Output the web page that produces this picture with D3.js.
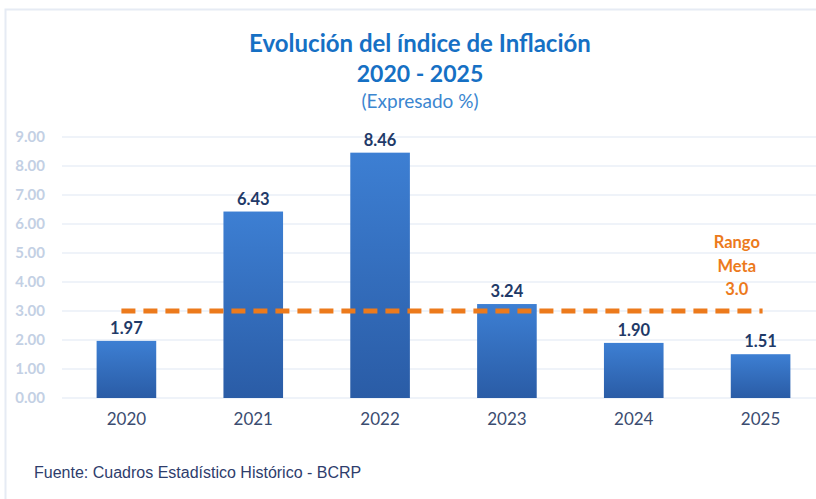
<!DOCTYPE html>
<html>
<head>
<meta charset="utf-8">
<script src="https://cdn.jsdelivr.net/npm/d3@7"></script>
<style>
  body { margin: 0; background: #fff; }
  svg { display: block; }
</style>
</head>
<body>
<svg id="chart" width="816" height="499"></svg>
<script>
const years = ['2020', '2021', '2022', '2023', '2024', '2025']
const inflation = [1.97, 6.43, 8.46, 3.24, 1.90, 1.51]
const yTicks = [0, 1, 2, 3, 4, 5, 6, 7, 8, 9]
const targetValue = 3.0
const targetLabel = ['Rango', 'Meta', '3.0']
const titleLines = ['Evolución del índice de Inflación', '2020 - 2025', '(Expresado %)']
const source = 'Fuente: Cuadros Estadístico Histórico - BCRP'

const font = 'Lato'
const barLabelColor = '#1f3a68'
const orange = '#ec7a1c'

const svg = d3.select('#chart')

// frame
svg.append('rect')
  .attr('x', 5.5).attr('y', 9.5)
  .attr('width', 830).attr('height', 520)
  .attr('fill', 'none')
  .attr('stroke', '#e6ebf4')
  .attr('stroke-width', 2)

const defs = svg.append('defs')
const grad = defs.append('linearGradient')
  .attr('id', 'barGrad')
  .attr('x1', 0).attr('y1', 0).attr('x2', 0).attr('y2', 1)
grad.append('stop').attr('offset', '0%').attr('stop-color', '#3d7fd3')
grad.append('stop').attr('offset', '100%').attr('stop-color', '#2a5ca6')

const xScale = d3.scaleBand()
  .domain(years)
  .range([63, 824])
  .paddingInner(0.53)
  .paddingOuter(0.265)

const yScale = d3.scaleLinear()
  .domain([0, 9])
  .range([398, 137])

// gridlines
svg.append('g')
  .selectAll('line')
  .data(yTicks)
  .enter()
  .append('line')
  .attr('x1', 62)
  .attr('x2', 816)
  .attr('y1', (d) => yScale(d))
  .attr('y2', (d) => yScale(d))
  .attr('stroke', '#dfe7f3')
  .attr('stroke-width', 1.2)

// y axis labels
const yAxis = svg.append('g')
  .attr('transform', 'translate(45,0)')
  .call(d3.axisLeft(yScale).tickValues(yTicks).tickFormat(d3.format('.2f')).tickSize(0).tickPadding(0))
yAxis.select('.domain').remove()
yAxis.selectAll('text')
  .attr('font-family', font)
  .attr('font-weight', 'bold')
  .attr('font-size', 15)
  .attr('fill', '#c3d0e4')

// x axis labels
const xAxis = svg.append('g')
  .attr('transform', 'translate(0,398)')
  .call(d3.axisBottom(xScale).tickSize(0).tickPadding(15))
xAxis.select('.domain').remove()
xAxis.selectAll('text')
  .attr('font-family', font)
  .attr('font-size', 17)
  .attr('fill', '#3b4c70')

const data = years.map((y, i) => ({ year: y, value: inflation[i] }))

// bars
svg.append('g')
  .selectAll('rect')
  .data(data)
  .enter()
  .append('rect')
  .attr('x', (d) => xScale(d.year))
  .attr('y', (d) => yScale(d.value))
  .attr('width', xScale.bandwidth())
  .attr('height', (d) => yScale(0) - yScale(d.value))
  .attr('fill', 'url(#barGrad)')

// value labels
svg.append('g')
  .selectAll('text')
  .data(data)
  .enter()
  .append('text')
  .attr('x', (d) => xScale(d.year) + xScale.bandwidth() / 2)
  .attr('y', (d) => yScale(d.value) - 7)
  .attr('text-anchor', 'middle')
  .attr('font-family', font)
  .attr('font-weight', 'bold')
  .attr('font-size', 16.5)
  .attr('fill', barLabelColor)
  .text((d) => d.value.toFixed(2))

// target line
svg.append('line')
  .attr('x1', xScale('2020') + xScale.bandwidth() / 2 - 5)
  .attr('x2', xScale('2025') + xScale.bandwidth() / 2 + 2)
  .attr('y1', yScale(targetValue))
  .attr('y2', yScale(targetValue))
  .attr('stroke', orange)
  .attr('stroke-width', 5)
  .attr('stroke-dasharray', '14 8')
  .attr('stroke-linecap', 'butt')

// target label
svg.append('g')
  .selectAll('text')
  .data(targetLabel)
  .enter()
  .append('text')
  .attr('x', xScale('2025') + 6)
  .attr('y', (d, i) => 248 + i * 23.5)
  .attr('text-anchor', 'middle')
  .attr('font-family', font)
  .attr('font-weight', 'bold')
  .attr('font-size', 16.5)
  .attr('fill', orange)
  .text((d) => d)

// title
const titleSizes = [24, 23, 19]
const titleY = [52, 82, 108]
svg.append('g')
  .selectAll('text')
  .data(titleLines)
  .enter()
  .append('text')
  .attr('x', 420)
  .attr('y', (d, i) => titleY[i])
  .attr('text-anchor', 'middle')
  .attr('font-family', font)
  .attr('font-weight', (d, i) => i < 2 ? 'bold' : 'normal')
  .attr('font-size', (d, i) => titleSizes[i])
  .attr('fill', (d, i) => i < 2 ? '#1670c4' : '#3b86d0')
  .text((d) => d)

// source
svg.append('text')
  .attr('x', 34)
  .attr('y', 478)
  .attr('font-family', 'Liberation Sans')
  .attr('font-size', 16)
  .attr('fill', '#2e3d6c')
  .text(source)
</script>
</body>
</html>
